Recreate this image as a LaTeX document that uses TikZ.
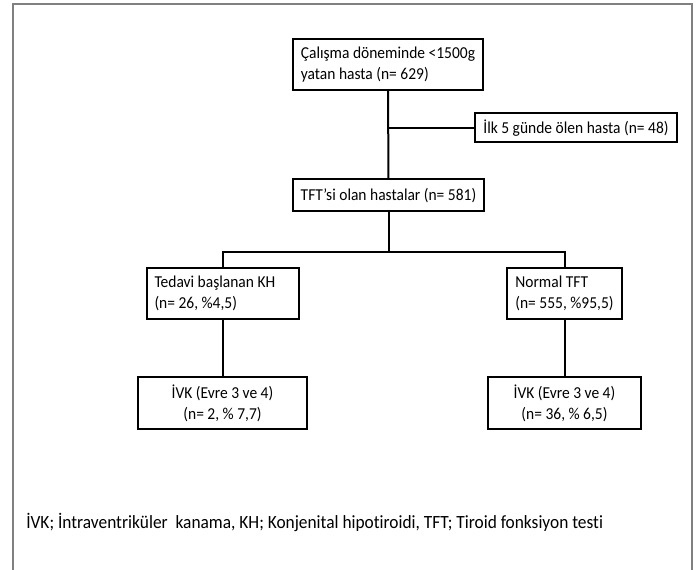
\documentclass[tikz,border=0pt]{standalone}
\usepackage{fontspec}
\setmainfont{Carlito}[FakeStretch=0.93, Ligatures=NoCommon]
\usepackage{tikz}
\frenchspacing

\begin{document}
\begin{tikzpicture}[x=0.75pt, y=-0.75pt,
  box/.style={draw, line width=1.5pt, inner xsep=6pt, outer sep=0pt,
    font=\fontsize{12.5pt}{15.5pt}\selectfont},
  link/.style={line width=1.5pt}]
\useasboundingbox (0,0) rectangle (696,570);
% outer frame, open at the bottom
\draw[gray, line width=1.2pt] (12.7,572) -- (12.7,4) -- (692,4) -- (692,572);

\node[box, minimum width=142.5pt, minimum height=38.25pt, align=left] (start) at (388,64.5) {Çalışma döneminde <1500g\\yatan hasta (n= 629)};
\node[box, minimum width=151.5pt, minimum height=22.1pt] (dead) at (576,127.7) {İlk 5 günde ölen hasta (n= 48)};
\node[box, minimum width=143.25pt, minimum height=23.6pt] (tft) at (388.5,195.2) {TFT’si olan hastalar (n= 581)};

\node[box, text width=102pt, minimum height=37.9pt, align=flush left] (kh) at (222.5,293.7) {Tedavi başlanan KH\\(n= 26, \%4,5)};
\node[box, minimum width=86.25pt, minimum height=37.9pt, align=left] (normal) at (564.5,293.7) {Normal TFT\\(n= 555, \%95,5)};

\node[box, minimum width=126.4pt, minimum height=38.6pt, align=center] (ivk1) at (222.5,403.2) {İVK (Evre 3 ve 4)\\(n= 2, \% 7,7)};
\node[box, minimum width=114.75pt, minimum height=38.6pt, align=center] (ivk2) at (564.5,403.2) {İVK (Evre 3 ve 4)\\(n= 36, \% 6,5)};

\coordinate (split) at (388,252);

\draw[link] (start.south) -- (tft.north);
\draw[link] (dead.west) -- (dead.west -| start.south);
\draw[link] (tft.south) -- (tft.south |- split);
\draw[link] (kh.north) |- (split) -| (normal.north);
\draw[link] (kh.south) -- (ivk1.north);
\draw[link] (normal.south) -- (ivk2.north);

\node[anchor=west, inner sep=0pt, font=\fontsize{14pt}{16pt}\selectfont] (note) at (26,522) {İVK; İntraventriküler~ kanama, KH; Konjenital hipotiroidi, TFT; Tiroid fonksiyon testi};
\end{tikzpicture}
\end{document}
